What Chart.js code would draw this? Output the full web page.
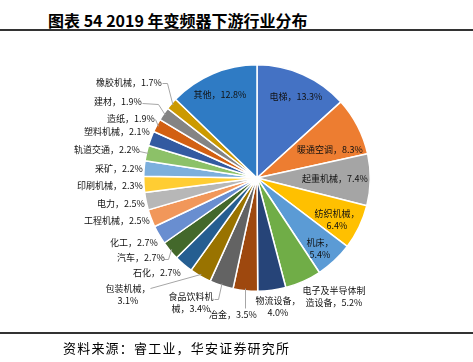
<!DOCTYPE html>
<html><head><meta charset="utf-8">
<script src="https://cdn.jsdelivr.net/npm/chart.js@4/dist/chart.umd.min.js"></script>
<style>
html,body{margin:0;padding:0;background:#fff;}
#wrap{position:relative;width:473px;height:362px;overflow:hidden;}
#title{position:absolute;left:48px;top:8px;font-family:"Noto Sans CJK SC";font-weight:700;font-size:16px;color:#000;white-space:nowrap;letter-spacing:0px;}
#line1{position:absolute;left:0;top:29px;width:473px;height:2px;background:#333;}
#line2{position:absolute;left:0;top:332px;width:473px;height:2px;background:#333;}
#src{position:absolute;left:63px;top:338px;font-family:"Noto Sans CJK SC";font-size:13px;color:#000;white-space:nowrap;letter-spacing:1.2px;}
canvas{position:absolute;left:0;top:0;}
</style></head>
<body><div id="wrap">
<div id="title">图表 54 2019 年变频器下游行业分布</div>
<div id="line1"></div>
<canvas id="c" width="473" height="362"></canvas>
<div id="line2"></div>
<div id="src">资料来源：睿工业，华安证券研究所</div>
</div>
<script>
// ---- data ----
const categories = ["电梯","暖通空调","起重机械","纺织机械","机床","电子及半导体制造设备","物流设备","冶金","食品饮料机械","包装机械","石化","汽车","化工","工程机械","电力","印刷机械","采矿","轨道交通","塑料机械","造纸","建材","橡胶机械","其他"];
const shares = [13.3,8.3,7.4,6.4,5.4,5.2,4.0,3.5,3.4,3.1,2.7,2.7,2.7,2.5,2.5,2.3,2.2,2.2,2.1,1.9,1.9,1.7,12.8];

// ---- style ----
const colors = ["#4472C4","#ED7D31","#A5A5A5","#FFC000","#5B9BD5","#70AD47","#264478","#9E480E","#636363","#997300","#255E91","#43682B","#698ED0","#F1975A","#B7B7B7","#FFCD33","#7CAFDD","#8CC168","#335AA1","#D26012","#848484","#CC9A00","#2F7BC4"];

// label text lines (layout only) and their centre positions
const labelText = [
 ["电梯，13.3%"],["暖通空调，8.3%"],["起重机械，7.4%"],["纺织机械，","6.4%"],["机床，","5.4%"],
 ["电子及半导体制","造设备，5.2%"],["物流设备，","4.0%"],["冶金，3.5%"],["食品饮料机","械，3.4%"],["包装机械，","3.1%"],
 ["石化，2.7%"],["汽车，2.7%"],["化工，2.7%"],["工程机械，2.5%"],["电力，2.5%"],["印刷机械，2.3%"],
 ["采矿，2.2%"],["轨道交通，2.2%"],["塑料机械，2.1%"],["造纸，1.9%"],["建材，1.9%"],["橡胶机械，1.7%"],["其他，12.8%"]
];
const labelXY = [
 [296,97],[330,150],[335,179],[337,214],[320,243],
 [334,291],[278,301],[233,315],[191,297],[128,289],
 [157,273],[141,258],[134,243],[117,221],[121,204],[110,186],
 [119,169],[107,150],[117,132],[131,119],[118,102],[129,83],[220,95]
];
// leader line polyline points (text side)
const leaders = {
 7:[[245,308]],
 8:[[214,299],[218,299]],
 9:[[150,288]],
 11:[[164,259],[168,259]],
 17:[[139,151]],
 19:[[155,119]],
 20:[[142,103],[158,104]],
 21:[[162,83],[167,83]]
};

const labelPlugin = {
  id:'labels',
  afterDatasetsDraw(chart){
    const ctx = chart.ctx;
    const meta = chart.getDatasetMeta(0);
    ctx.save();
    ctx.strokeStyle = '#A6A6A6';
    ctx.lineWidth = 1;
    Object.keys(leaders).forEach(k=>{
      const arc = meta.data[+k];
      const mid = (arc.startAngle+arc.endAngle)/2;
      const r = arc.outerRadius - 2;
      const sx = arc.x + Math.cos(mid)*r, sy = arc.y + Math.sin(mid)*r;
      const pts = leaders[k];
      ctx.beginPath();
      ctx.moveTo(pts[0][0]+0.5, pts[0][1]+0.5);
      for(let i=1;i<pts.length;i++) ctx.lineTo(pts[i][0]+0.5, pts[i][1]+0.5);
      ctx.lineTo(sx, sy);
      ctx.stroke();
    });
    ctx.fillStyle = '#111';
    ctx.font = '9px "Noto Sans CJK SC"';
    ctx.textAlign = 'center';
    ctx.textBaseline = 'middle';
    labelText.forEach((lines,i)=>{
      const [x,y] = labelXY[i];
      const lh = 12;
      lines.forEach((t,j)=>{
        ctx.fillText(t, x, y + j*lh);
      });
    });
    ctx.restore();
  }
};

new Chart(document.getElementById('c'), {
  type:'pie',
  data:{ labels:categories, datasets:[{ data:shares, backgroundColor:colors, borderColor:'#fff', borderWidth:1.5 }]},
  options:{
    responsive:false, animation:false,
    layout:{ padding:{ left:143, right:102, top:64, bottom:70 } },
    plugins:{ legend:{display:false}, tooltip:{enabled:false} }
  },
  plugins:[labelPlugin]
});
</script>
</body></html>
